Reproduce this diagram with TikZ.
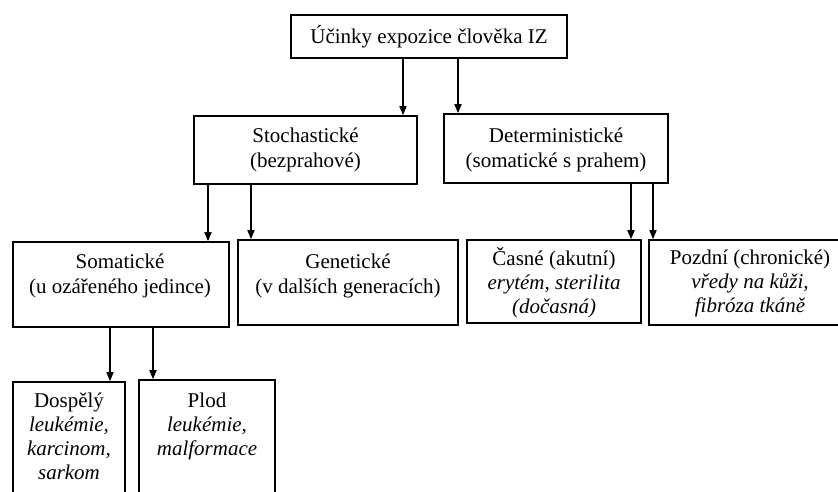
\documentclass[tikz,border=0pt]{standalone}
\usepackage{fontspec}
\setmainfont{Liberation Serif}
\usetikzlibrary{arrows.meta}
\begin{document}
\begin{tikzpicture}[x=1pt,y=-1pt,
  box/.style={draw,line width=1.6pt,inner sep=0pt},
  lbl/.style={align=center,inner sep=0pt,font=\fontsize{21}{25}\selectfont},
  lblb/.style={align=center,inner sep=0pt,font=\fontsize{21}{24}\selectfont},
  arr/.style={line width=1.6pt,-{Triangle[length=9pt,width=7pt]}}]
\useasboundingbox (0,0) rectangle (838,491);
\fill[white] (0,0) rectangle (838,491);
\clip (0,0) rectangle (838,491);

% boxes
\node[box,minimum width=276pt,minimum height=43pt] (top) at (429,36.5) {};
\node[box,minimum width=223pt,minimum height=68pt] (stoch) at (305.5,150) {};
\node[box,minimum width=224pt,minimum height=69pt] (det) at (556,148.5) {};
\node[box,minimum width=216pt,minimum height=85pt] (som) at (121,284.5) {};
\node[box,minimum width=220pt,minimum height=85pt] (gen) at (348,282.5) {};
\node[box,minimum width=174pt,minimum height=83pt] (cas) at (554,281.5) {};
\node[box,minimum width=202pt,minimum height=85pt] (poz) at (750,282.5) {};
\node[box,minimum width=112pt,minimum height=138pt] (dosp) at (69,451) {};
\node[box,minimum width=136pt,minimum height=140pt] (plod) at (207,450) {};

% texts
\node[lbl] (topt) at (429,38) {\strut Účinky expozice člověka IZ};
\node[lbl] (stocht) at (305.5,149.5) {\strut Stochastické\\\strut (bezprahové)};
\node[lbl] (dett) at (556,149.5) {\strut Deterministické\\\strut (somatické s prahem)};
\node[lbl] (somt) at (120,275.5) {\strut Somatické\\\strut (u ozářeného jedince)};
\node[lbl] (gent) at (348,275.5) {\strut Genetické\\\strut (v dalších generacích)};
\node[lblb] (cast) at (554,284) {\strut Časné (akutní)\\\strut\itshape erytém, sterilita\\\strut\itshape (dočasná)};
\node[lblb] (pozt) at (750,284) {\strut Pozdní (chronické)\\\strut\itshape vředy na kůži,\\\strut\itshape fibróza tkáně};
\node[lblb] (dospt) at (69,439) {\strut Dospělý\\\strut\itshape leukémie,\\\strut\itshape karcinom,\\\strut\itshape sarkom};
\node[lblb] (plodt) at (207,427) {\strut Plod\\\strut\itshape leukémie,\\\strut\itshape malformace};

% arrows
\draw[arr] ([xshift=-26pt]top.south) -- ([xshift=-26pt]top.south |- stoch.north);
\draw[arr] ([xshift=29pt]top.south) -- ([xshift=29pt]top.south |- det.north);
\draw[arr] ([xshift=-97.5pt]stoch.south) -- ([xshift=-97.5pt]stoch.south |- som.north);
\draw[arr] ([xshift=-54.5pt]stoch.south) -- ([xshift=-54.5pt]stoch.south |- gen.north);
\draw[arr] ([xshift=75pt]det.south) -- ([xshift=75pt]det.south |- cas.north);
\draw[arr] ([xshift=97pt]det.south) -- ([xshift=97pt]det.south |- poz.north);
\draw[arr] ([xshift=-11pt]som.south) -- ([xshift=-11pt]som.south |- dosp.north);
\draw[arr] ([xshift=32pt]som.south) -- ([xshift=32pt]som.south |- plod.north);
\end{tikzpicture}
\end{document}
